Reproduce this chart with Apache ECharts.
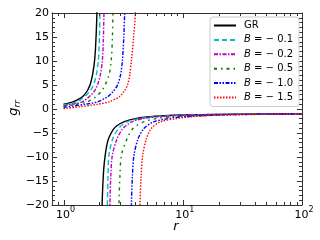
<!DOCTYPE html>
<html><head><meta charset="utf-8">
<script src="https://cdn.jsdelivr.net/npm/echarts@6/dist/echarts.min.js"></script>
<style>html,body{margin:0;padding:0;background:#fff}#c{width:320px;height:240px}</style>
</head><body><div id="c"></div>
<script>
// ---- data: [r, g_rr] ----
const seriesNames = ['GR', 'B = \u2212 0.1', 'B = \u2212 0.2', 'B = \u2212 0.5', 'B = \u2212 1.0', 'B = \u2212 1.5'];
const grInner = [[1,1.0],[1.2,1.5],[1.4,2.33],[1.5,3.0],[1.6,4.0],[1.7,5.67],[1.8,9.0],[1.85,12.3],[1.9,19.0],[1.93,27.6]];
const grOuter = [[2.07,-29.6],[2.105,-20.0],[2.15,-14.3],[2.2,-11.0],[2.3,-7.67],[2.4,-6.0],[2.6,-4.33],[2.8,-3.5],[3.2,-2.67],[4,-2.0],[5,-1.67],[7,-1.4],[10,-1.25],[20,-1.11],[50,-1.04],[100,-1.02]];
const b01Inner = [[1,0.91],[1.102,1.0],[1.303,1.5],[1.481,2.5],[1.65,3.6],[1.777,4.93],[1.88,7.0],[1.957,10],[2.0,15],[2.018,20],[2.04,30]];
const b01Outer = [[2.31,-30],[2.329,-20],[2.36,-14],[2.403,-9.6],[2.591,-6.15],[2.893,-4.07],[3.383,-2.7],[4.343,-2.0],[6,-1.57],[10,-1.28],[20,-1.12],[50,-1.045],[100,-1.022]];
const b02Inner = [[1,0.7],[1.19,1.0],[1.436,1.5],[1.632,2.5],[1.8,3.6],[1.92,4.93],[2.03,7.0],[2.114,10],[2.16,15],[2.182,20],[2.21,30]];
const b02Outer = [[2.43,-30],[2.449,-20],[2.49,-14],[2.566,-9.6],[2.816,-6.15],[3.145,-4.07],[3.727,-2.7],[4.638,-2.0],[7,-1.5],[10,-1.30],[20,-1.13],[50,-1.049],[100,-1.024]];
const b05Inner = [[1,0.56],[1.286,1.0],[1.582,1.5],[1.857,2.5],[2.06,3.6],[2.223,4.93],[2.4,7.0],[2.51,10],[2.57,15],[2.596,20],[2.63,30]];
const b05Outer = [[2.88,-30],[2.916,-20],[2.97,-14],[3.06,-9.6],[3.416,-6.15],[3.815,-4.07],[4.674,-2.7],[6.0,-2.0],[8,-1.62],[10,-1.45],[20,-1.19],[50,-1.069],[100,-1.033]];
const b10Inner = [[1,0.35],[1.531,1.0],[1.931,1.5],[2.329,2.5],[2.6,3.6],[2.827,4.93],[3.0,7.0],[3.113,10],[3.2,15],[3.256,20],[3.32,30]];
const b10Outer = [[3.66,-30],[3.707,-20],[3.78,-14],[3.898,-9.6],[4.227,-6.15],[4.72,-4.07],[5.672,-2.7],[7.52,-2.0],[10,-1.62],[20,-1.245],[50,-1.078],[100,-1.042]];
const b15Inner = [[1,0.08],[1.4,0.5],[1.931,1.0],[2.403,1.5],[2.916,2.5],[3.2,3.6],[3.43,4.93],[3.58,7.0],[3.707,10],[3.87,15],[4.004,20],[4.1,30]];
const b15Outer = [[4.33,-30],[4.377,-20],[4.47,-14],[4.612,-9.6],[4.963,-6.15],[5.447,-4.07],[6.458,-2.7],[8.837,-2.0],[12,-1.6],[20,-1.29],[50,-1.10],[100,-1.048]];
const xMajorTicks = [1, 10, 100];
const xTickBase = ['10', '10', '10'];
const xTickExp = ['0', '1', '2'];
const xMinorTicks = [0.9,2,3,4,5,6,7,8,9,20,30,40,50,60,70,80,90];

const curves = [
  {inner: grInner, outer: grOuter, color: '#000000', type: 'solid'},
  {inner: b01Inner, outer: b01Outer, color: '#00bfbf', type: [5, 3]},
  {inner: b02Inner, outer: b02Outer, color: '#bf00bf', type: [4, 1.5, 1.5, 1.5]},
  {inner: b05Inner, outer: b05Outer, color: '#008000', type: [3, 4, 1.5, 4]},
  {inner: b10Inner, outer: b10Outer, color: '#0000ff', type: [4, 1.5, 1.5, 1.5, 1.5, 1.5]},
  {inner: b15Inner, outer: b15Outer, color: '#ff0000', type: [1.5, 1.5]}
];
const FONT = 'DejaVu Sans';
const AX = '#333';

const series = [];
curves.forEach((c, i) => {
  [c.inner, c.outer].forEach(d => {
    series.push({
      type: 'line', name: seriesNames[i], data: d, showSymbol: false, symbol: 'none',
      smooth: 0.3, clip: true, color: c.color,
      lineStyle: {color: c.color, width: 1.4, type: c.type}
    });
  });
});

function tickRenderer(len) {
  return function (params, api) {
    const v = api.value(0);
    const b = api.coord([v, -20]);
    const t = api.coord([v, 20]);
    const x = Math.round(b[0]) + 0.5;
    return {type: 'group', children: [
      {type: 'line', shape: {x1: x, y1: b[1], x2: x, y2: b[1] - len}, style: {stroke: AX, lineWidth: 1}},
      {type: 'line', shape: {x1: x, y1: t[1], x2: x, y2: t[1] + len}, style: {stroke: AX, lineWidth: 1}}
    ]};
  };
}
series.push({type: 'custom', name: 'majorX', data: xMajorTicks.map(v => [v, 0]), renderItem: tickRenderer(5), silent: true, z: 5});
series.push({type: 'custom', name: 'minorX', data: xMinorTicks.map(v => [v, 0]), renderItem: tickRenderer(3), silent: true, z: 5});
series.push({type: 'custom', name: 'labelX', data: xMajorTicks.map(v => [v, 0]), silent: true, z: 5,
  renderItem: function (params, api) {
    const b = api.coord([api.value(0), -20]);
    const i = params.dataIndex;
    return {type: 'text', x: b[0] + 2, y: b[1] + 1, style: {
      text: '{a|' + xTickBase[i] + '}{e|' + xTickExp[i] + '}', align: 'center', verticalAlign: 'top', fill: '#000',
      rich: {a: {fontSize: 11, fontFamily: FONT, lineHeight: 15, verticalAlign: 'bottom', fill: '#000'},
             e: {fontSize: 8, fontFamily: FONT, lineHeight: 9, verticalAlign: 'top', fill: '#000'}}}};
  }});

const chart = echarts.init(document.getElementById('c'), null, {renderer: 'canvas'});
const yAxisBase = {
  type: 'value', min: -20, max: 20, interval: 5,
  axisLine: {show: true, onZero: false, lineStyle: {color: AX, width: 1}},
  axisTick: {show: true, inside: true, length: 5, lineStyle: {color: AX}},
  minorTick: {show: true, splitNumber: 5, length: 3, lineStyle: {color: AX}},
  splitLine: {show: false}, minorSplitLine: {show: false}
};
const xAxisBase = {
  type: 'log', logBase: 10, min: 0.8, max: 100,
  axisLine: {show: true, onZero: false, lineStyle: {color: AX, width: 1}},
  axisTick: {show: false}, axisLabel: {show: false}, splitLine: {show: false}
};
chart.setOption({
  animation: false,
  backgroundColor: '#fff',
  grid: {left: 52, right: 18, top: 13, bottom: 35},
  xAxis: [
    Object.assign({}, xAxisBase, {position: 'bottom'}),
    Object.assign({}, xAxisBase, {position: 'top'})
  ],
  yAxis: [
    Object.assign({}, yAxisBase, {position: 'left',
      axisLabel: {show: true, margin: 3, fontSize: 11, fontFamily: FONT, color: '#000',
        formatter: v => (v < 0 ? '\u2212' + Math.abs(v) : String(v))}}),
    Object.assign({}, yAxisBase, {position: 'right', axisLabel: {show: false}})
  ],
  legend: {
    data: seriesNames, orient: 'vertical', left: 210, top: 17,
    itemWidth: 22, itemHeight: 11, itemGap: 4.4, padding: [3.5, 6, 4, 3],
    itemStyle: {opacity: 0},
    backgroundColor: 'rgba(255,255,255,0.85)', borderColor: '#cccccc', borderWidth: 1, borderRadius: 3,
    textStyle: {fontSize: 10, fontFamily: FONT, color: '#000', padding: [0, 0, 0, 3],
      rich: {i: {fontSize: 10, fontFamily: FONT, fontStyle: 'italic', color: '#000'}}},
    formatter: n => (n.charAt(0) === 'B' ? '{i|B}' + n.slice(1) : n)
  },
  graphic: [
    {type: 'text', x: 176, y: 227, style: {text: 'r', fontSize: 13, fontStyle: 'italic', fontFamily: FONT, fill: '#000', align: 'center', verticalAlign: 'middle'}},
    {type: 'text', x: 14, y: 108, rotation: Math.PI / 2,
     style: {text: '{g|g}{s|rr}', align: 'center', verticalAlign: 'middle', fill: '#000',
       rich: {g: {fontSize: 13, fontStyle: 'italic', fontFamily: FONT, lineHeight: 16},
              s: {fontSize: 9, fontStyle: 'italic', fontFamily: FONT, lineHeight: 9, verticalAlign: 'bottom'}}}}
  ],
  series: series
});
</script></body></html>
